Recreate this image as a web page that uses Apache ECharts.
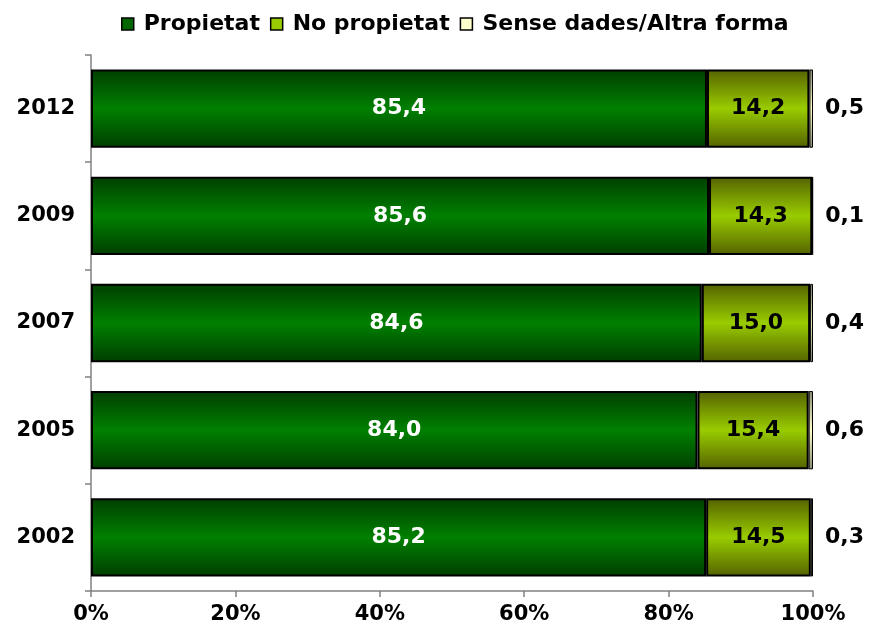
<!DOCTYPE html>
<html>
<head>
<meta charset="utf-8">
<style>
  html, body { margin: 0; padding: 0; background: #fff; }
  #chart { width: 871px; height: 631px; }
</style>
<script src="https://cdn.jsdelivr.net/npm/echarts@6/dist/echarts.min.js"></script>
</head>
<body>
<div id="chart"></div>
<script>
// Tenure of the main residence by survey year (%)
const years = ['2012', '2009', '2007', '2005', '2002'];
const propietat = [85.4, 85.6, 84.6, 84.0, 85.2];
const noPropietat = [14.2, 14.3, 15.0, 15.4, 14.5];
const senseDades = [0.5, 0.1, 0.4, 0.6, 0.3];
const seriesNames = ['Propietat', 'No propietat', 'Sense dades/Altra forma'];
const xTicks = [0, 20, 40, 60, 80, 100];

const FONT = '"DejaVu Sans", Verdana, sans-serif';

// Each row is drawn as a share of its own total (100% stacked)
const totals = years.map((_, i) => propietat[i] + noPropietat[i] + senseDades[i]);
const share = (arr) => arr.map((v, i) => ({ value: v / totals[i] * 100, raw: v }));
const fmt = (v) => v.toFixed(1).replace('.', ',');

function band(edge, mid) {
  return new echarts.graphic.LinearGradient(0, 0, 0, 1, [
    { offset: 0, color: edge },
    { offset: 0.5, color: mid },
    { offset: 1, color: edge }
  ]);
}

const solid = ['#006600', '#99cc00', '#ffffcc'];

const chart = echarts.init(document.getElementById('chart'));
chart.setOption({
  animation: false,
  textStyle: { fontFamily: FONT },
  legend: {
    top: 8,
    left: 116,
    itemWidth: 12,
    itemHeight: 12,
    itemGap: 10,
    textStyle: { fontFamily: FONT, fontWeight: 'bold', fontSize: 22, color: '#000', padding: [0, 0, 0, 5] },
    data: seriesNames.map((n, i) => ({
      name: n,
      icon: 'rect',
      itemStyle: { color: solid[i], borderColor: '#000', borderWidth: 1.5 }
    }))
  },
  grid: { left: 91, right: 58, top: 55, bottom: 40 },
  xAxis: {
    type: 'value',
    min: 0,
    max: 100,
    interval: 20,
    axisLine: { show: true, lineStyle: { color: '#808080', width: 1.5 } },
    axisTick: { show: true, length: 6, lineStyle: { color: '#808080', width: 1.5 } },
    splitLine: { show: false },
    axisLabel: {
      formatter: '{value}%',
      fontFamily: FONT, fontWeight: 'bold', fontSize: 21, color: '#000', margin: 13,
      customValues: xTicks
    }
  },
  yAxis: {
    type: 'category',
    data: years,
    inverse: true,
    axisLine: { show: true, lineStyle: { color: '#808080', width: 1.5 } },
    axisTick: { show: true, length: 6, lineStyle: { color: '#808080', width: 1.5 } },
    axisLabel: { fontFamily: FONT, fontWeight: 'bold', fontSize: 21, color: '#000', margin: 16 }
  },
  series: [
    {
      name: seriesNames[0],
      type: 'bar',
      stack: 'total',
      barCategoryGap: '27%',
      data: share(propietat),
      itemStyle: { color: band('#003e00', '#008000'), borderColor: '#000', borderWidth: 2 },
      label: {
        show: true, position: 'inside',
        formatter: (p) => fmt(p.data.raw),
        fontFamily: FONT, fontWeight: 'bold', fontSize: 22, color: '#fff'
      }
    },
    {
      name: seriesNames[1],
      type: 'bar',
      stack: 'total',
      data: share(noPropietat),
      itemStyle: { color: band('#546200', '#99cc00'), borderColor: '#000', borderWidth: 2 },
      label: {
        show: true, position: 'inside',
        formatter: (p) => fmt(p.data.raw),
        fontFamily: FONT, fontWeight: 'bold', fontSize: 22, color: '#000'
      }
    },
    {
      name: seriesNames[2],
      type: 'bar',
      stack: 'total',
      data: share(senseDades),
      itemStyle: { color: band('#8c8c70', '#ffffcc'), borderColor: '#000', borderWidth: 1 },
      label: {
        show: true, position: 'right', distance: 12,
        formatter: (p) => fmt(p.data.raw),
        fontFamily: FONT, fontWeight: 'bold', fontSize: 22, color: '#000'
      }
    }
  ]
});
</script>
</body>
</html>
